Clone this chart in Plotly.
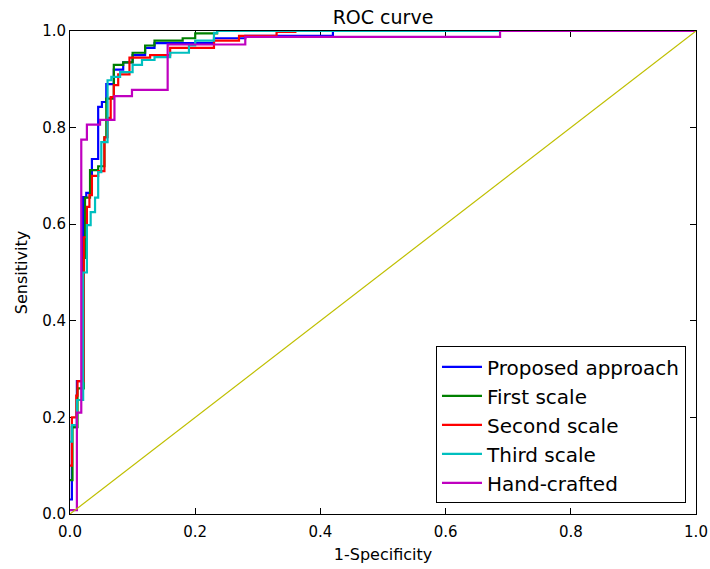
import plotly.graph_objects as go

# ROC operating points (false positive rate, true positive rate) for each model
names = ["Proposed approach", "First scale", "Second scale", "Third scale", "Hand-crafted"]

fpr_proposed = [0.0, 0.003, 0.011, 0.021, 0.026, 0.035, 0.045, 0.051, 0.058, 0.070,
                0.085, 0.100, 0.120, 0.135, 0.230, 0.280, 0.420, 1.0]
tpr_proposed = [0.03, 0.18, 0.275, 0.656, 0.665, 0.735, 0.843, 0.853, 0.890, 0.920,
                0.935, 0.950, 0.965, 0.975, 0.985, 0.990, 1.0, 1.0]

fpr_first = [0.0, 0.004, 0.012, 0.022, 0.024, 0.032, 0.045, 0.055, 0.058, 0.070,
             0.085, 0.100, 0.120, 0.135, 0.180, 0.200, 0.235, 1.0]
tpr_first = [0.07, 0.18, 0.26, 0.53, 0.655, 0.712, 0.720, 0.780, 0.860, 0.930,
             0.935, 0.955, 0.970, 0.980, 0.985, 0.995, 1.0, 1.0]

fpr_second = [0.0, 0.003, 0.010, 0.012, 0.022, 0.027, 0.031, 0.035, 0.045, 0.055,
              0.060, 0.065, 0.070, 0.077, 0.095, 0.128, 0.160, 0.230, 0.270, 0.330,
              0.360, 1.0]
tpr_second = [0.10, 0.20, 0.245, 0.275, 0.573, 0.636, 0.660, 0.700, 0.710, 0.780,
              0.820, 0.863, 0.888, 0.910, 0.945, 0.950, 0.965, 0.980, 0.990, 0.998,
              1.0, 1.0]

fpr_third = [0.0, 0.003, 0.011, 0.021, 0.027, 0.033, 0.040, 0.045, 0.050, 0.060,
             0.066, 0.080, 0.100, 0.115, 0.135, 0.160, 0.190, 0.200, 0.230, 0.235, 1.0]
tpr_third = [0.15, 0.184, 0.236, 0.50, 0.598, 0.625, 0.655, 0.708, 0.770, 0.898,
             0.905, 0.915, 0.930, 0.940, 0.946, 0.955, 0.970, 0.980, 0.996, 1.0, 1.0]

fpr_hand = [0.0, 0.011, 0.018, 0.027, 0.048, 0.071, 0.099, 0.156, 0.280, 0.687, 1.0]
tpr_hand = [0.008, 0.21, 0.775, 0.806, 0.816, 0.865, 0.878, 0.972, 0.988, 1.0, 1.0]

chance = [0.0, 1.0]

colors = ["#0000ff", "#008000", "#ff0000", "#00bfbf", "#bf00bf"]
curves = [(fpr_proposed, tpr_proposed), (fpr_first, tpr_first),
          (fpr_second, tpr_second), (fpr_third, tpr_third), (fpr_hand, tpr_hand)]

font_family = "DejaVu Sans"

fig = go.Figure()

for i, (name, (fx, ty), col) in enumerate(zip(names, curves, colors)):
    fig.add_trace(go.Scatter(
        x=fx, y=ty, mode="lines", name=name,
        line=dict(color=col, width=2.2, shape="hv"),
        legendgroup=f"g{i}",
    ))

fig.add_trace(go.Scatter(
    x=chance, y=chance, mode="lines", showlegend=False,
    line=dict(color="#bfbf00", width=1.2),
))

axis_common = dict(
    range=[0, 1], tickvals=[0, 0.2, 0.4, 0.6, 0.8, 1.0], tickformat=".1f",
    ticks="inside", ticklen=6, tickwidth=1, tickcolor="black",
    showline=True, linecolor="black", linewidth=1, mirror="ticks",
    showgrid=False, zeroline=False, layer="below traces", automargin=False,
    tickfont=dict(family=font_family, size=15, color="black"),
)

fig.update_layout(
    width=710, height=569,
    margin=dict(l=70, r=14, t=31, b=55),
    paper_bgcolor="white", plot_bgcolor="white",
    font=dict(family=font_family, color="black"),
    title=dict(text="ROC curve", x=0.5, xanchor="center", xref="paper",
               y=1 - 17 / 569, yref="container", yanchor="middle",
               font=dict(family=font_family, size=19, color="black")),
    xaxis=dict(axis_common, ticklabelstandoff=4,
               title=dict(text="1-Specificity", standoff=8,
                          font=dict(family=font_family, size=16))),
    yaxis=dict(axis_common,
               title=dict(text="Sensitivity", standoff=10,
                          font=dict(family=font_family, size=16))),
    legend=dict(
        x=0.984, y=0.022, xanchor="right", yanchor="bottom",
        bgcolor="white", bordercolor="black", borderwidth=1,
        font=dict(family=font_family, size=20, color="black"),
        traceorder="grouped", tracegroupgap=0, itemwidth=40,
    ),
)

fig.write_html("out.html")
